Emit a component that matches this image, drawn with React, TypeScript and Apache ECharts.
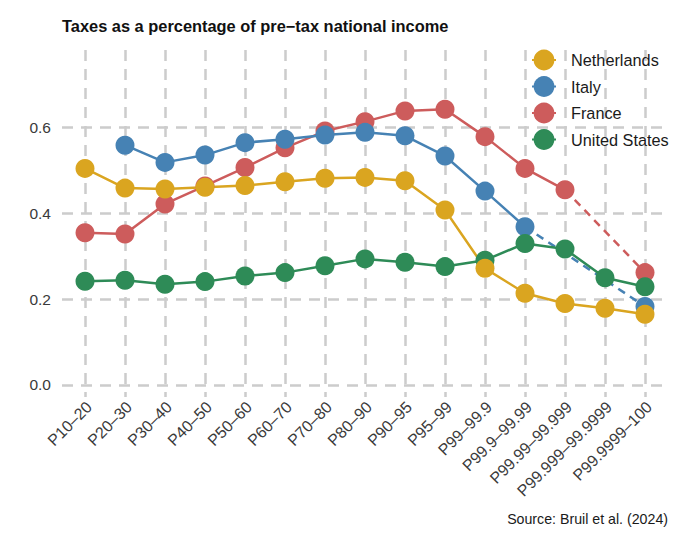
import React, { useEffect, useRef } from "react";
import * as echarts from "echarts";

const categories = [
  "P10–20", "P20–30", "P30–40", "P40–50", "P50–60", "P60–70", "P70–80",
  "P80–90", "P90–95", "P95–99", "P99–99.9", "P99.9–99.99", "P99.99–99.999",
  "P99.999–99.9999", "P99.9999–100",
];

const netherlands = [0.505, 0.459, 0.457, 0.461, 0.465, 0.474, 0.482, 0.484, 0.476, 0.408, 0.272, 0.214, 0.19, 0.179, 0.165];
const italy = [null, 0.559, 0.519, 0.536, 0.565, 0.573, 0.583, 0.589, 0.581, 0.534, 0.452, 0.369, null, null, 0.183];
const france = [0.355, 0.352, 0.422, 0.464, 0.507, 0.553, 0.592, 0.614, 0.639, 0.643, 0.579, 0.505, 0.455, null, 0.262];
const unitedStates = [0.242, 0.244, 0.235, 0.241, 0.254, 0.262, 0.278, 0.294, 0.286, 0.276, 0.291, 0.33, 0.317, 0.25, 0.229];

const yTicks = [0, 0.2, 0.4, 0.6];
const xTicks = categories.map((_, i) => i);

const FONT = "Liberation Sans";

type S = { name: string; values: (number | null)[]; color: string };
const countries: S[] = [
  { name: "France", values: france, color: "#CD5C5C" },
  { name: "Italy", values: italy, color: "#4682B4" },
  { name: "United States", values: unitedStates, color: "#2E8B57" },
  { name: "Netherlands", values: netherlands, color: "#DAA520" },
];

function toPoints(values: (number | null)[]) {
  return values.map((v, i) => [i, v === null ? "-" : v]);
}

// dashed connectors spanning gaps of missing values
function gapPoints(values: (number | null)[]) {
  const out: (number | string)[][] = values.map((_, i) => [i, "-"]);
  for (let i = 0; i < values.length - 1; i++) {
    if (values[i] !== null && values[i + 1] === null) {
      let j = i + 1;
      while (j < values.length && values[j] === null) j++;
      if (j < values.length) {
        out[i] = [i, values[i] as number];
        out[j] = [j, values[j] as number];
      }
    }
  }
  return out;
}

export default function App() {
  const ref = useRef<HTMLDivElement>(null);
  useEffect(() => {
    document.body.style.margin = "0";
    if (!ref.current) return;
    const chart = echarts.init(ref.current, undefined, { renderer: "svg" });
    const gridLine = { color: "#cccccc", width: 2.5, type: [11, 8] as number[] };
    const dashedSeries = countries
      .filter((c) => c.values.some((v) => v === null))
      .map((c) => ({
        name: c.name + " gap",
        type: "line",
        data: gapPoints(c.values),
        connectNulls: true,
        showSymbol: false,
        symbol: "none",
        lineStyle: { color: c.color, width: 2.5, type: [8, 6] },
        z: 1,
        silent: true,
      }));
    const mainSeries = countries.map((c) => ({
      name: c.name,
      type: "line",
      data: toPoints(c.values),
      symbol: "circle",
      symbolSize: 19,
      showSymbol: true,
      showAllSymbol: true,
      connectNulls: false,
      itemStyle: { color: c.color },
      lineStyle: { color: c.color, width: 2.5 },
      z: 2,
    }));
    chart.setOption({
      animation: false,
      textStyle: { fontFamily: FONT },
      title: {
        text: "Taxes as a percentage of pre−tax national income",
        left: 62,
        top: 18,
        padding: 0,
        textStyle: { fontFamily: FONT, fontSize: 16.4, fontWeight: "bold", color: "#111111" },
      },
      legend: {
        data: ["Netherlands", "Italy", "France", "United States"],
        orient: "vertical",
        left: 531,
        top: 49.6,
        padding: 0,
        itemWidth: 24,
        itemHeight: 26,
        itemGap: 5.7,
        textStyle: { fontFamily: FONT, fontSize: 16.3, color: "#1a1a1a", padding: [0, 0, 0, 10] },
      },
      grid: { left: 62, right: 12, top: 50, bottom: 142, containLabel: false },
      xAxis: {
        type: "value",
        min: -0.575,
        max: 14.575,
        axisLine: { show: false, onZero: false },
        axisTick: { show: false, customValues: xTicks },
        axisLabel: {
          customValues: xTicks,
          formatter: (v: number) => categories[Math.round(v)] ?? "",
          rotate: 45,
          align: "right",
          verticalAlign: "top",
          lineHeight: 12,
          margin: 3,
          fontSize: 16,
          color: "#3a3a3a",
          fontFamily: FONT,
        },
        splitLine: { show: true, lineStyle: gridLine },
      },
      yAxis: {
        type: "value",
        min: -0.028,
        max: 0.781,
        axisLine: { show: false },
        axisTick: { show: false, customValues: yTicks },
        axisLabel: {
          customValues: yTicks,
          formatter: (v: number) => v.toFixed(1),
          margin: 11,
          fontSize: 15.5,
          color: "#3a3a3a",
          fontFamily: FONT,
        },
        splitLine: { show: true, lineStyle: gridLine },
      },
      graphic: [
        {
          type: "text",
          x: 668,
          y: 519,
          style: {
            text: "Source: Bruil et al. (2024)",
            align: "right",
            verticalAlign: "middle",
            fontSize: 14.2,
            fontFamily: FONT,
            fill: "#1a1a1a",
          },
        },
      ],
      series: [...dashedSeries, ...mainSeries],
    });
    return () => chart.dispose();
  }, []);
  return <div ref={ref} style={{ width: 680, height: 539 }} />;
}
